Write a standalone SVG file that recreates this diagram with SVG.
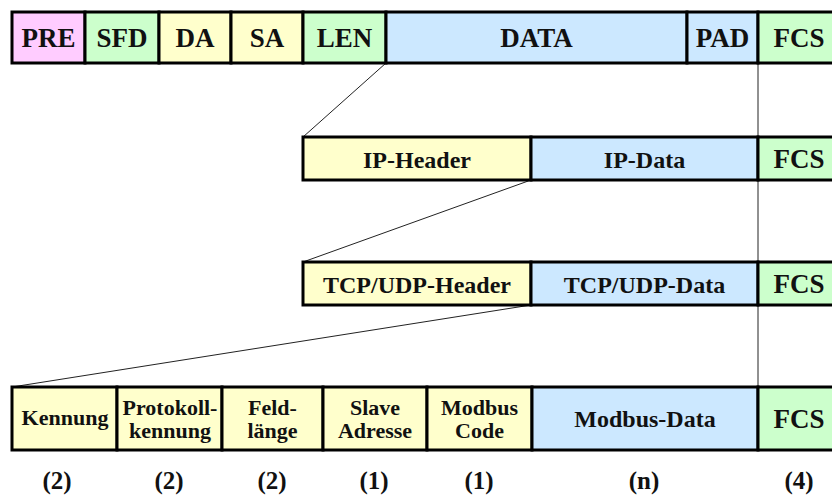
<svg xmlns="http://www.w3.org/2000/svg" width="832" height="499" viewBox="0 0 832 499">
<style>
.c{stroke:#000;stroke-width:3}
.pk{fill:#FFCCFF}.gr{fill:#CCFFCC}.ye{fill:#FFFFCC}.bl{fill:#CCE8FF}
text{font-family:"Liberation Serif","Times New Roman",serif;font-weight:bold;fill:#111;text-anchor:middle}
.t1{font-size:27px}.t2{font-size:24px}.t3{font-size:22px}.t4{font-size:25px}
.ln{stroke:#222;stroke-width:1;fill:none}
</style>
<rect width="832" height="499" fill="#fff"/>
<g id="connectors">
<line class="ln" x1="386" y1="63" x2="303" y2="137"/>
<line class="ln" x1="531" y1="180" x2="303" y2="262"/>
<line class="ln" x1="531" y1="305" x2="12" y2="387"/>
<line class="ln" x1="758" y1="63" x2="758" y2="387"/>
</g>
<g id="row1">
<g id="pre"><rect class="c pk" x="12" y="12" width="73" height="51"/><text class="t1" x="48.5" y="47">PRE</text></g>
<g id="sfd"><rect class="c gr" x="85" y="12" width="74" height="51"/><text class="t1" x="122" y="47">SFD</text></g>
<g id="da"><rect class="c ye" x="159" y="12" width="72" height="51"/><text class="t1" x="195" y="47">DA</text></g>
<g id="sa"><rect class="c ye" x="231" y="12" width="72" height="51"/><text class="t1" x="267" y="47">SA</text></g>
<g id="len"><rect class="c gr" x="303" y="12" width="83" height="51"/><text class="t1" x="344.5" y="47">LEN</text></g>
<g id="data"><rect class="c bl" x="386" y="12" width="301" height="51"/><text class="t1" x="536.5" y="47">DATA</text></g>
<g id="pad"><rect class="c bl" x="687" y="12" width="71" height="51"/><text class="t1" x="722.5" y="47">PAD</text></g>
<g id="fcs1"><rect class="c gr" x="758" y="12" width="80" height="51"/><text class="t1" x="799" y="47">FCS</text></g>
</g>
<g id="row2">
<g id="ipheader"><rect class="c ye" x="303" y="137" width="228" height="43"/><text class="t2" x="417" y="168">IP-Header</text></g>
<g id="ipdata"><rect class="c bl" x="531" y="137" width="227" height="43"/><text class="t2" x="644.5" y="168">IP-Data</text></g>
<g id="fcs2"><rect class="c gr" x="758" y="137" width="80" height="43"/><text class="t1" x="799" y="168">FCS</text></g>
</g>
<g id="row3">
<g id="tcpheader"><rect class="c ye" x="303" y="262" width="228" height="43"/><text class="t2" x="417" y="293">TCP/UDP-Header</text></g>
<g id="tcpdata"><rect class="c bl" x="531" y="262" width="227" height="43"/><text class="t2" x="644.5" y="293">TCP/UDP-Data</text></g>
<g id="fcs3"><rect class="c gr" x="758" y="262" width="80" height="43"/><text class="t1" x="799" y="293">FCS</text></g>
</g>
<g id="row4">
<g id="kennung"><rect class="c ye" x="12" y="387" width="105" height="63"/><text class="t3" x="65" y="425">Kennung</text></g>
<g id="protokoll"><rect class="c ye" x="117" y="387" width="105" height="63"/><text class="t3" x="170" y="415">Protokoll-</text><text class="t3" x="170" y="438">kennung</text></g>
<g id="feld"><rect class="c ye" x="222" y="387" width="101" height="63"/><text class="t3" x="272.5" y="415">Feld-</text><text class="t3" x="272.5" y="438">länge</text></g>
<g id="slave"><rect class="c ye" x="323" y="387" width="104" height="63"/><text class="t3" x="375" y="415">Slave</text><text class="t3" x="375" y="438">Adresse</text></g>
<g id="code"><rect class="c ye" x="427" y="387" width="105" height="63"/><text class="t3" x="479.5" y="415">Modbus</text><text class="t3" x="479.5" y="438">Code</text></g>
<g id="mdata"><rect class="c bl" x="532" y="387" width="226" height="63"/><text class="t2" x="645" y="427">Modbus-Data</text></g>
<g id="fcs4"><rect class="c gr" x="758" y="387" width="80" height="63"/><text class="t1" x="799" y="428">FCS</text></g>
</g>
<g id="sizes">
<text class="t4" x="57" y="489">(2)</text>
<text class="t4" x="169" y="489">(2)</text>
<text class="t4" x="272" y="489">(2)</text>
<text class="t4" x="374" y="489">(1)</text>
<text class="t4" x="479" y="489">(1)</text>
<text class="t4" x="644" y="489">(n)</text>
<text class="t4" x="799" y="489">(4)</text>
</g>
</svg>
